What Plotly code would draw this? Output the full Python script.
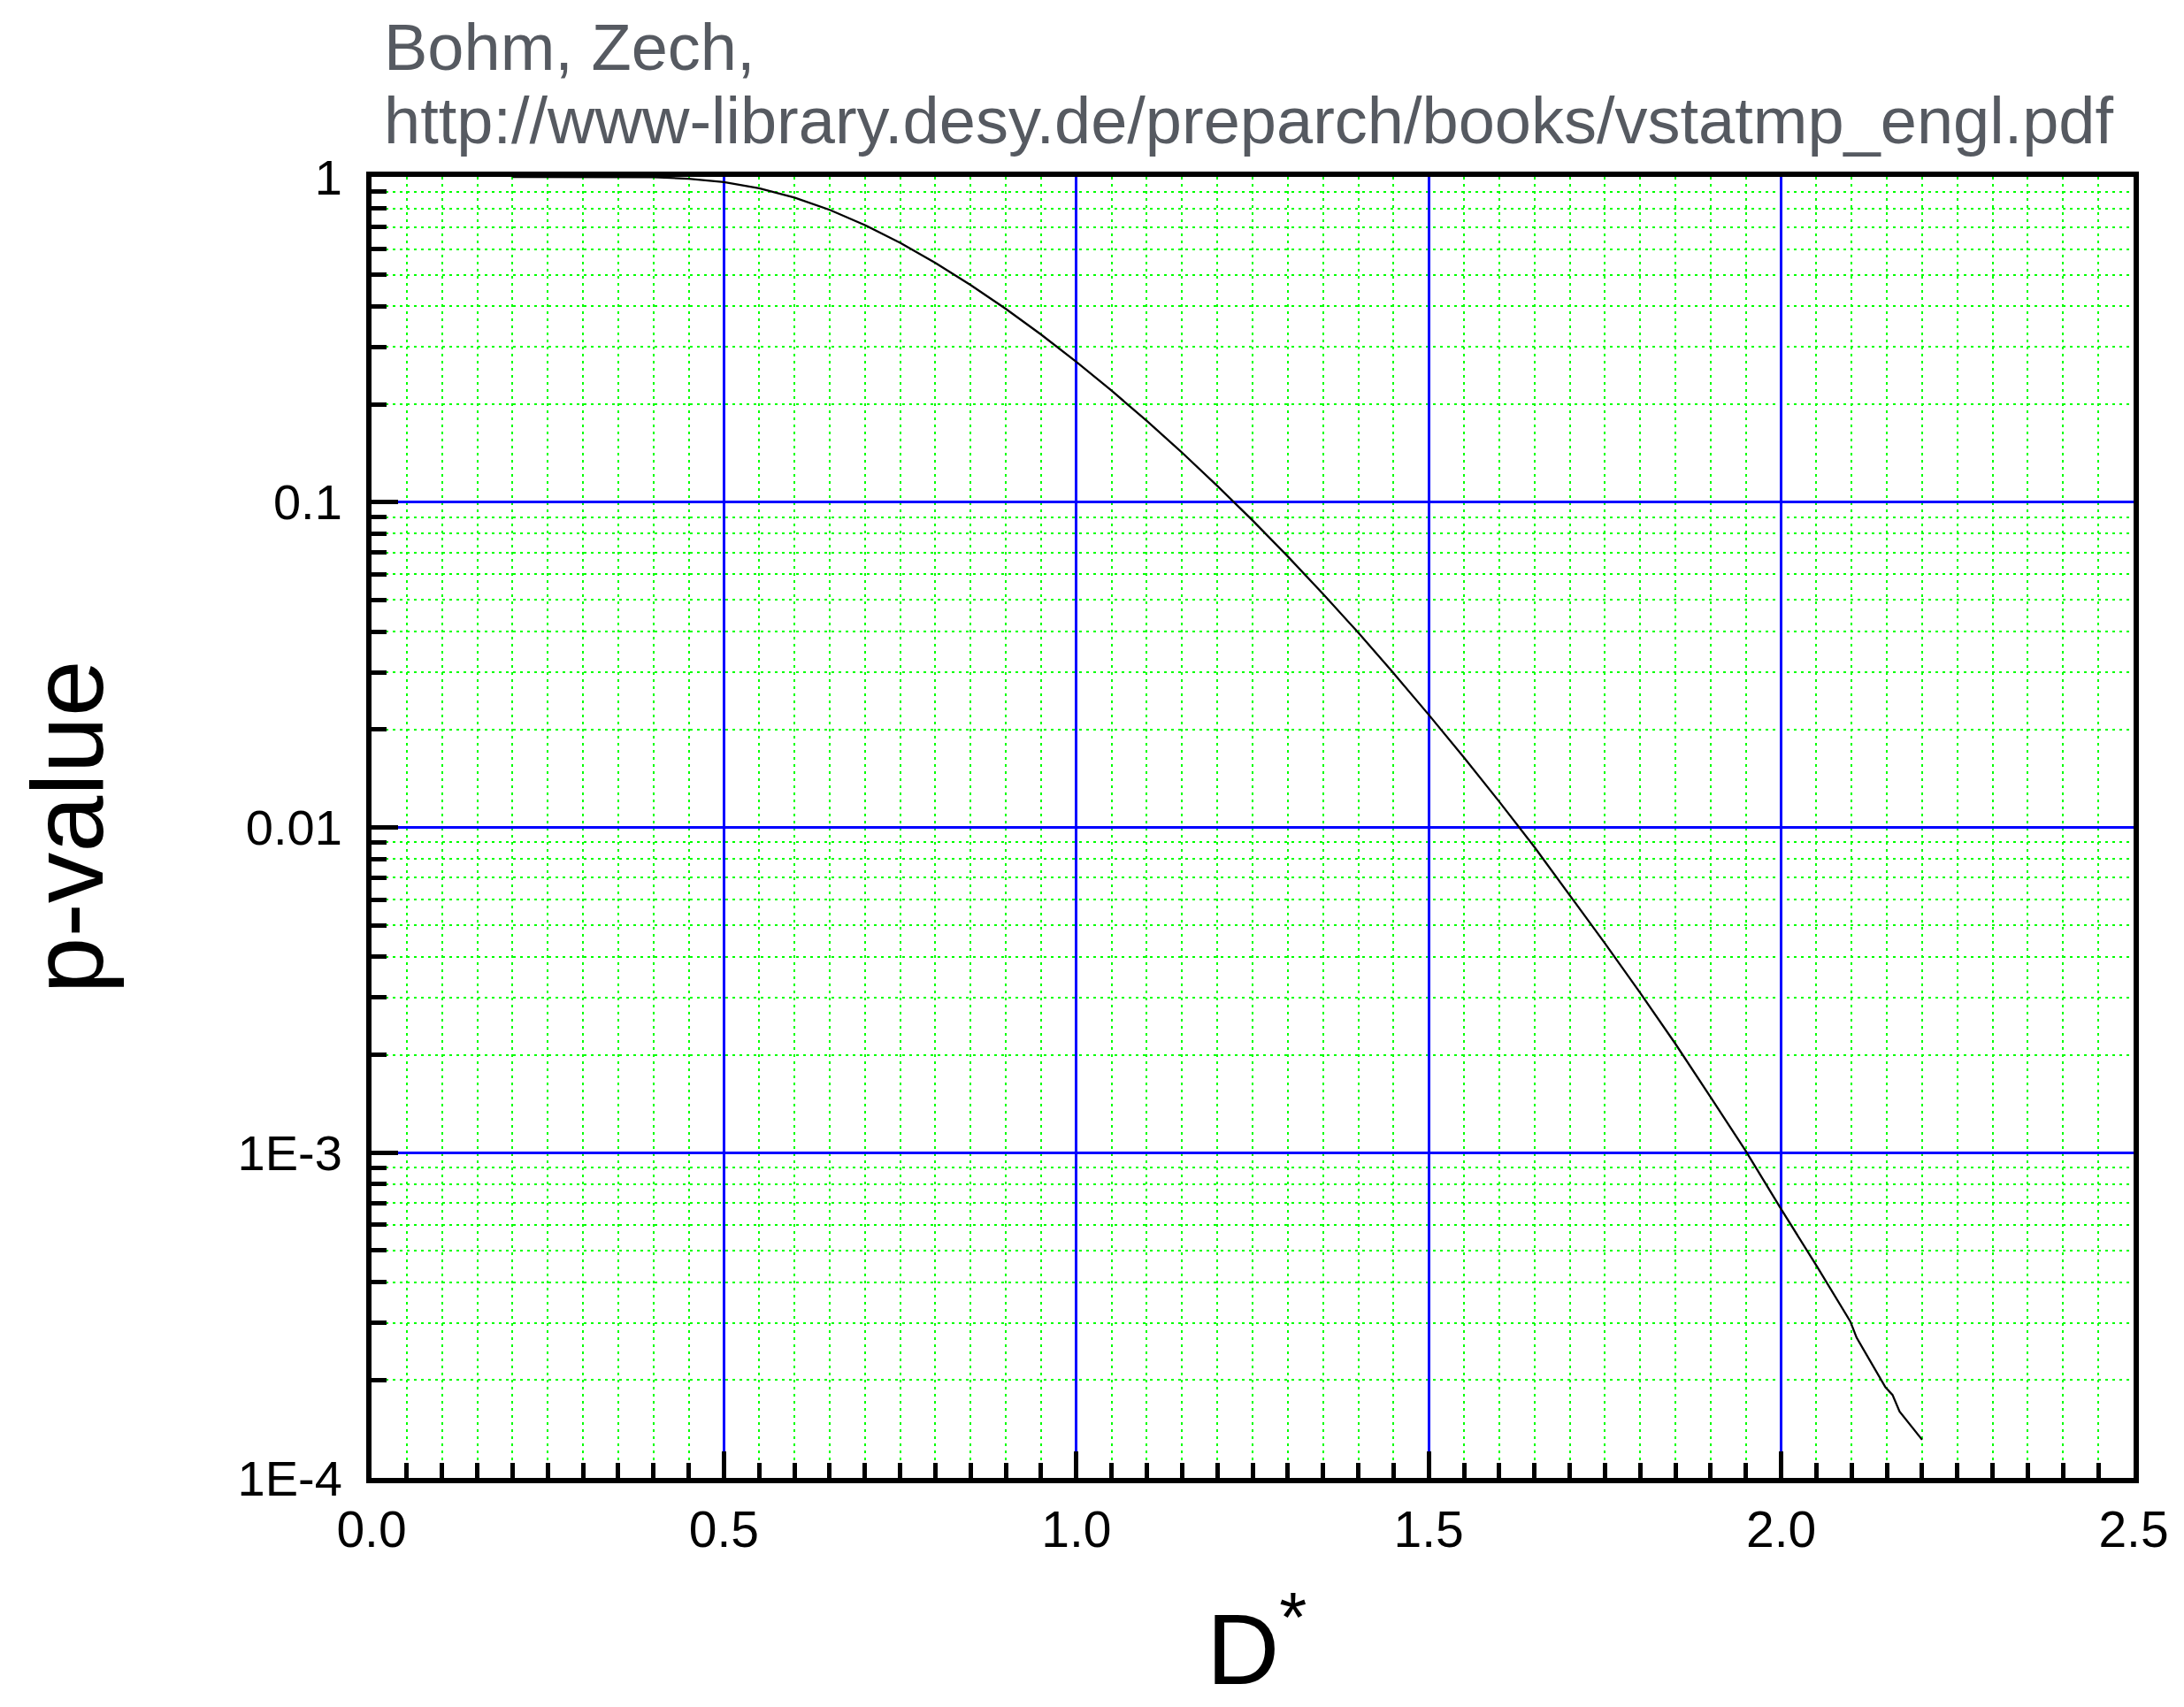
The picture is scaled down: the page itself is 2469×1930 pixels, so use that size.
import plotly.graph_objects as go

# Data (Kolmogorov-Smirnov p-value vs D*)
d_star = [0.20, 0.25, 0.30, 0.35, 0.40, 0.45, 0.50, 0.55, 0.60, 0.65, 0.70, 0.75,
          0.80, 0.85, 0.90, 0.95, 1.00, 1.05, 1.10, 1.15, 1.20, 1.25, 1.30, 1.35,
          1.40, 1.45, 1.50, 1.55, 1.60, 1.65, 1.70, 1.75, 1.80, 1.85, 1.90, 1.95,
          2.00, 2.05, 2.098, 2.107, 2.148, 2.158, 2.168, 2.20]
p_value = [1.0, 1.0, 1.0, 0.9997, 0.9972, 0.9874, 0.9639, 0.9228, 0.8643, 0.7920,
           0.7112, 0.6272, 0.5441, 0.4653, 0.3927, 0.3275, 0.2700, 0.2202, 0.1777,
           0.1420, 0.1122, 0.0879, 0.0681, 0.0522, 0.0397, 0.0298, 0.0222, 0.0164,
           0.0120, 0.0087, 0.0062, 0.0044, 0.0031, 0.00216, 0.00148, 0.00101,
           0.00067, 0.00045, 0.000303, 0.000270, 0.000190, 0.000180, 0.000160,
           0.000131]

x_tick_vals = [0.0, 0.5, 1.0, 1.5, 2.0, 2.5]
x_tick_text = ["0.0", "0.5", "1.0", "1.5", "2.0", "2.5"]
y_tick_vals = [1e-4, 1e-3, 1e-2, 1e-1, 1.0]
y_tick_text = ["1E-4", "1E-3", "0.01", "0.1", "1"]

title_lines = ["Bohm, Zech,", "http://www-library.desy.de/preparch/books/vstatmp_engl.pdf"]

FONT = "Liberation Sans, Arial, sans-serif"
W, H = 2469, 1930
L, R, T, B = 420, 57, 200, 259
PW, PH = W - L - R, H - T - B

def px_x(x):
    return (x - L) / PW

def px_y(y):
    return (H - B - y) / PH

x_minor = [i * 0.05 for i in range(51) if i % 10]
y_minor = [m * 10 ** e for e in range(-4, 0) for m in range(2, 10)]

fig = go.Figure()
fig.add_trace(go.Scatter(x=d_star, y=p_value, mode="lines",
                         line=dict(color="black", width=2.3), showlegend=False))

grid_minor = dict(ticks="inside", ticklen=17, tickwidth=5, tickcolor="black",
                  showgrid=True, gridcolor="#00ff00", gridwidth=2, griddash="3px,5px")

fig.update_layout(
    width=W, height=H,
    margin=dict(l=L, r=R, t=T, b=B, pad=0),
    paper_bgcolor="white", plot_bgcolor="white",
    font=dict(family=FONT, color="black"),
    xaxis=dict(
        range=[0, 2.5], tickmode="array", tickvals=x_tick_vals, ticktext=x_tick_text,
        ticks="inside", ticklen=30, tickwidth=5, tickcolor="black",
        showline=True, linewidth=6, linecolor="black", mirror=True,
        showgrid=True, gridcolor="#0000ff", gridwidth=3, zeroline=False,
        tickfont=dict(size=57, family=FONT, color="black"),
        ticklabelstandoff=4,
        minor=dict(tickmode="array", tickvals=x_minor, **grid_minor),
    ),
    yaxis=dict(
        type="log", range=[-4, 0], tickmode="array", tickvals=y_tick_vals, ticktext=y_tick_text,
        ticks="inside", ticklen=30, tickwidth=5, tickcolor="black",
        showline=True, linewidth=6, linecolor="black", mirror=True,
        showgrid=True, gridcolor="#0000ff", gridwidth=3, zeroline=False,
        tickfont=dict(size=56, family=FONT, color="black"),
        ticklabelstandoff=16,
        minor=dict(tickmode="array", tickvals=y_minor, **grid_minor),
    ),
)

# Header text (two lines)
fig.add_annotation(text=title_lines[0], xref="paper", yref="paper",
                   x=px_x(432), y=px_y(10), xanchor="left", yanchor="top",
                   showarrow=False, font=dict(size=74, family=FONT, color="#565a61"))
fig.add_annotation(text=title_lines[1], xref="paper", yref="paper",
                   x=px_x(432), y=px_y(93), xanchor="left", yanchor="top",
                   showarrow=False, font=dict(size=74, family=FONT, color="#565a61"))

# Axis titles
fig.add_annotation(text="p-value", xref="paper", yref="paper",
                   x=px_x(75), y=0.5, xanchor="center", yanchor="middle", textangle=-90,
                   showarrow=False, font=dict(size=115, family=FONT, color="black"))
fig.add_annotation(text="D<sup>*</sup>", xref="paper", yref="paper",
                   x=px_x(1420), y=px_y(1930), xanchor="center", yanchor="bottom",
                   showarrow=False, font=dict(size=114, family=FONT, color="black"))

fig.write_html("out.html")
